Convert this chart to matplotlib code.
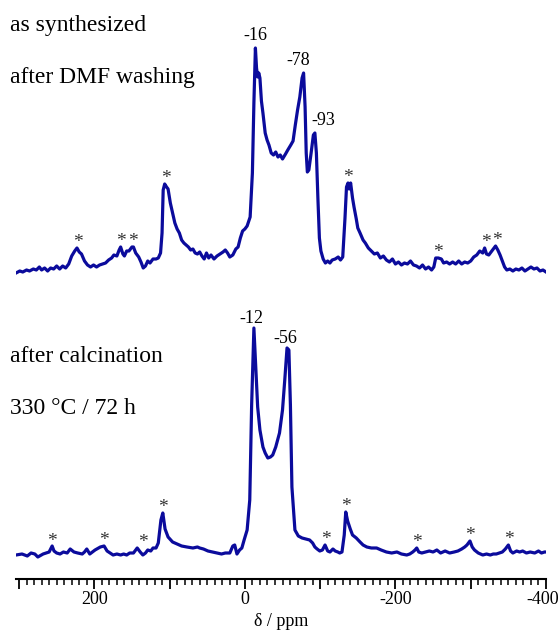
import numpy as np
import matplotlib
matplotlib.use("Agg")
import matplotlib.pyplot as plt
from matplotlib.ticker import MultipleLocator
from matplotlib.transforms import ScaledTranslation

plt.rcParams['font.family'] = ['Liberation Serif', 'DejaVu Serif']
plt.rcParams['axes.unicode_minus'] = False

# widmo górne: as synthesized / after DMF washing  (ppm, intensywność)
ppm_top = [304, 299, 295, 290, 286, 281, 277, 273, 270, 266, 262, 258, 254, 250, 246, 242, 238, 234, 230, 226,
           223, 220, 217, 213, 209, 205, 201, 197, 193, 189, 185, 181, 177, 174, 170, 167, 165, 162, 160, 157,
           154, 150, 148, 145, 141, 138, 135, 132, 129, 126, 122, 118, 115, 112, 110, 108.5, 106.5, 104, 102, 99,
           96, 93, 90, 87, 84, 81, 78, 75, 72, 69, 66, 63, 60, 57, 54, 51, 48, 45, 41, 37,
           33, 29, 26, 23, 20, 16, 12, 9, 6, 3, 0, -3, -7, -10, -12, -14, -15.5, -17, -18.5, -20,
           -22, -24, -27, -29.5, -32, -35, -38, -41, -44, -47, -50, -54, -57, -61, -64, -67, -70, -73, -76, -78,
           -80, -81.5, -83, -85, -88, -91, -93, -95, -97, -99, -101, -104, -107, -110, -113, -116, -120, -124, -127, -130,
           -133, -135, -137, -138.5, -140.5, -143, -145, -148, -150, -153, -157, -160, -164, -168, -172, -176, -180, -184, -188, -192,
           -196, -200, -204, -208, -212, -216, -220, -224, -228, -232, -236, -240, -244, -248, -251, -253.5, -257, -261, -264, -268,
           -272, -276, -280, -284, -288, -292, -296, -300, -304, -308, -312, -316, -318.5, -321, -324, -327, -330, -333, -336, -339,
           -342, -345, -348, -352, -356, -360, -364, -368, -372, -376, -380, -384, -388, -392, -396, -400]
int_top = [0, 2, 1, 3, 2, 4, 3, 6, 3, 5, 2, 5, 4, 7, 4, 7, 5, 9, 17, 22,
           25, 21, 19, 12, 8, 6, 8, 6, 8, 9, 10, 13, 15, 18, 17, 23, 26, 19, 17, 22,
           22, 26, 26, 20, 16, 11, 5, 7, 12, 10, 14, 14, 15, 20, 40, 83, 89, 86, 84, 70,
           60, 50, 44, 40, 33, 30, 28, 26, 23, 24, 20, 19, 21, 17, 14, 20, 15, 18, 14, 17,
           19, 21, 23, 20, 16, 18, 24, 26, 35, 42, 44, 47, 56, 100, 170, 225, 205, 196, 200, 195,
           172, 160, 140, 133, 128, 120, 118, 121, 116, 118, 114, 119, 123, 128, 132, 148, 163, 176, 195, 200,
           166, 120, 101, 103, 120, 138, 140, 120, 75, 35, 22, 14, 10, 12, 10, 13, 14, 16, 13, 16,
           55, 86, 90, 84, 90, 75, 66, 54, 45, 40, 33, 30, 25, 22, 19, 20, 15, 17, 13, 11,
           14, 9, 11, 8, 10, 9, 12, 8, 7, 5, 8, 4, 6, 3, 6, 15, 15, 14, 10, 11,
           9, 11, 9, 12, 9, 11, 10, 12, 16, 18, 22, 20, 25, 19, 18, 21, 24, 27, 23, 18,
           12, 6, 3, 4, 2, 4, 3, 5, 2, 4, 6, 4, 5, 2, 3, 1]

# widmo dolne: after calcination 330 °C / 72 h
ppm_bot = [304, 296, 289, 284, 279, 275, 268, 264, 260, 256, 253.5, 250, 245.5, 241, 236, 232, 227, 222, 216, 213,
           210, 206, 199, 192, 187, 183, 179, 175, 170, 165, 161, 157, 153, 148, 143, 139, 135.5, 132, 129, 125,
           122, 118, 115, 111.5, 109, 106, 102, 96, 90, 84, 77, 69, 63, 60, 55, 49, 43, 37, 31, 26,
           20, 16, 13.5, 10.5, 7, 4, 1, -3, -6.5, -9, -12, -14.5, -17, -20, -24, -27, -30.5, -34, -37, -41,
           -46, -50, -53, -56, -58.5, -60.5, -62.5, -66.5, -71, -76, -81, -86, -90, -93, -96, -99.5, -103, -106.5, -110, -113,
           -117, -120, -123.5, -126, -129, -132, -134, -136.5, -140, -143, -148, -153, -157, -162, -168, -175, -181, -188, -195, -202,
           -208, -215, -219, -223, -226, -228.3, -231, -235, -240, -245, -250, -255, -260, -266, -272, -278, -283, -288, -292, -295,
           -299, -302, -305, -310, -316, -321, -326, -330, -334, -338, -342, -346, -350, -353, -356, -361, -365, -369, -374, -379,
           -385, -390, -394, -398, -400]
int_bot = [0, 1, -1, 2, 1, -2, 1, 2, 3, 9, 4, 2, 1, 3, 2, 6, 3, 2, 1, 3,
           6, 1, 5, 8, 9, 4, 2, 0, 1, 0, 1, 0, 2, 2, 7, 3, 0, 2, 5, 4,
           7, 7, 12, 35, 42, 26, 18, 13, 11, 9, 8, 7, 8, 7, 6, 4, 3, 2, 1, 2,
           2, 9, 10, 1, 5, 7, 15, 25, 55, 150, 227, 188, 148, 125, 108, 102, 97, 98, 100, 108,
           122, 145, 175, 207, 205, 150, 68, 25, 19, 17, 16, 15, 12, 8, 6, 4, 5, 10, 4, 3,
           6, 4, 3, 2, 3, 20, 43, 34, 26, 20, 17, 13, 10, 8, 7, 7, 5, 3, 2, 3,
           1, 0, 1, 3, 5, 7, 3, 2, 3, 4, 3, 5, 2, 4, 2, 3, 4, 6, 8, 10,
           14, 8, 5, 2, 0, 1, 0, 1, 1, 2, 3, 6, 10, 4, 2, 4, 3, 4, 2, 3,
           2, 4, 2, 3, 3]

# etykiety pików
lab_top_ppm = [-14, -77, -91.5]
lab_top_int = [225, 200, 140]
lab_top_txt = ['-16', '-78', '-93']
lab_top_dx = [0, -3, 7]

lab_bot_ppm = [-12, -56]
lab_bot_int = [227, 207]
lab_bot_txt = ['-12', '-56']
lab_bot_dx = [-2, -1]

# gwiazdki (pasma boczne)
star_top_ppm = [221.6, 164.6, 148.6, 104.8, -136.7, -256.1, -319.8, -334.4]
star_top_int = [25, 26, 26, 89, 90, 15, 25, 27]
star_bot_ppm = [256.1, 187.1, 135.4, 108.8, -107.5, -134.0, -228.3, -298.6, -350.3]
star_bot_int = [8, 9, 7, 42, 10, 43, 7, 14, 10]

# oś x
major_ticks = [300, 200, 100, 0, -100, -200, -300, -400]
tick_labels = ['', '200', '', '0', '', '-200', '', '-400']

offset_top = 282
kolor = '#0b0b9c'

fig = plt.figure(figsize=(5.6, 6.3), dpi=100)
ax = fig.add_axes([16 / 560, 51 / 630, 530 / 560, 579 / 630])

ax.plot(ppm_top, np.array(int_top) + offset_top, color=kolor, lw=2.3, solid_joinstyle='round')
ax.plot(ppm_bot, int_bot, color=kolor, lw=2.3, solid_joinstyle='round')

for p, i, t, dx in zip(lab_top_ppm, lab_top_int, lab_top_txt, lab_top_dx):
    ax.annotate(t, (p, i + offset_top), xytext=(dx, 9), textcoords='offset points',
                ha='center', va='center', fontsize=13)
for p, i, t, dx in zip(lab_bot_ppm, lab_bot_int, lab_bot_txt, lab_bot_dx):
    ax.annotate(t, (p, i), xytext=(dx, 7), textcoords='offset points',
                ha='center', va='center', fontsize=13)

for p, i in zip(star_top_ppm, star_top_int):
    ax.annotate('*', (p, i + offset_top), xytext=(0, 4), textcoords='offset points',
                ha='center', va='center', fontsize=14, color='#333333')
for p, i in zip(star_bot_ppm, star_bot_int):
    ax.annotate('*', (p, i), xytext=(0, 4), textcoords='offset points',
                ha='center', va='center', fontsize=14, color='#333333')

ax.set_xlim(304, -400)
ax.set_ylim(-24, 555)

for s in ['left', 'right', 'top']:
    ax.spines[s].set_visible(False)
ax.spines['bottom'].set_linewidth(1.5)
ax.set_yticks([])
ax.set_xticks(major_ticks, tick_labels)
ax.xaxis.set_minor_locator(MultipleLocator(10))
ax.tick_params(axis='x', which='major', direction='out', length=7, width=1.3, labelsize=13, pad=2)
ax.tick_params(axis='x', which='minor', direction='out', length=4, width=1.1)
ax.set_xlabel('δ / ppm', fontsize=13, labelpad=3)
ax.patch.set_alpha(0)

# ostatnia etykieta lekko w lewo, żeby nie wychodziła poza obraz
last = ax.get_xticklabels()[-1]
last.set_transform(last.get_transform() + ScaledTranslation(-3 / 100, 0, fig.dpi_scale_trans))

fig.text(10 / 560, 1 - 25 / 630, 'as synthesized', fontsize=17, va='center', ha='left')
fig.text(10 / 560, 1 - 77 / 630, 'after DMF washing', fontsize=17, va='center', ha='left')
fig.text(10 / 560, 1 - 357 / 630, 'after calcination', fontsize=17, va='center', ha='left')
fig.text(10 / 560, 1 - 408 / 630, '330 °C / 72 h', fontsize=17, va='center', ha='left')

fig.savefig('out.png', dpi=100)
